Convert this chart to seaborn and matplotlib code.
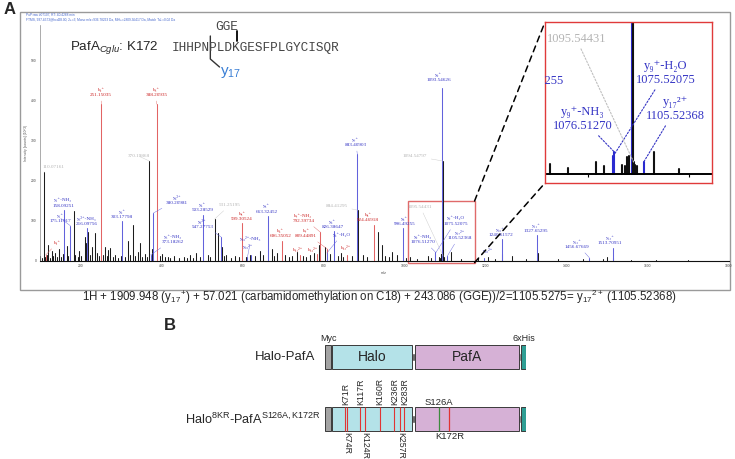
import matplotlib
matplotlib.use("Agg")
import matplotlib.pyplot as plt
from matplotlib.patches import Rectangle, ConnectionPatch
import numpy as np
import pandas as pd
import seaborn as sns

# ---------------- panel A: MS/MS spectrum (m/z, intensity x10^3) ----------------
other_mz = [101.07, 104.05, 110.07161, 112.08, 116.07, 120.08, 124.1, 129.10, 133.1, 136.08,
            141.1, 147.11, 152.1, 156.08, 166.06, 169.1, 183.11, 187.1, 193.1, 197.13,
            201.1, 211.14, 213.1, 218.15, 224.1, 229.12, 235.12, 240.1, 246.1, 256.1,
            260.15, 265.1, 268.16, 273.16, 280.1, 286.18, 292.1, 300.17, 310.1, 317.18,
            322.1, 330.19, 335.2, 341.2, 347.2, 352.1, 358.2, 364.2, 370.19868, 376.2,
            395.2, 401.22, 408.2, 415.2, 422.2, 430.2, 442.2, 455.2, 463.2, 470.25,
            478.2, 486.27, 495.2, 514.28, 520.3, 531.25195, 539.3, 548.3, 554.3, 560.3,
            571.3, 580.3, 590.3, 608.3, 618.3, 630.3, 643.3, 650.3, 672.3, 678.3,
            684.4, 705.4, 714.4, 722.4, 733.4, 748.4, 757.4, 766.4, 777.4, 789.4,
            804.4, 815.4, 835.4, 842.4, 848.4, 870.4, 884.41295, 896.4, 907.4, 935.48,
            943.5, 952.5, 960.5, 968.5, 980.5, 1004.5, 1012.5, 1030.5, 1058.5, 1066.5,
            1084.5, 1087.5, 1089.5, 1090.5, 1094.54797, 1095.54431, 1096.5, 1098.5, 1115.5, 1140.5,
            1180.5, 1206.6, 1222.6, 1241.6, 1264.6, 1300.6, 1328.65, 1380.0, 1440.7, 1490.7,
            1500.7, 1514.7, 1560.0, 1620.0, 1700.0]
other_int = [12, 8, 222, 10, 14, 40, 8, 25, 12, 20,
             10, 30, 9, 18, 38, 12, 125, 16, 10, 25,
             12, 60, 45, 72, 14, 35, 70, 20, 12, 16,
             35, 12, 28, 33, 10, 15, 8, 12, 10, 50,
             14, 90, 12, 22, 45, 10, 18, 10, 250, 30,
             12, 18, 10, 10, 8, 12, 8, 10, 8, 14,
             8, 20, 10, 15, 10, 105, 70, 35, 12, 14,
             8, 12, 10, 10, 15, 12, 25, 15, 30, 12,
             20, 14, 10, 12, 22, 12, 10, 15, 20, 40,
             35, 18, 12, 20, 10, 12, 127, 15, 10, 73,
             40, 12, 10, 22, 15, 8, 10, 6, 12, 8,
             9, 8, 17, 18, 250, 12, 9, 8, 22, 5,
             8, 10, 6, 18, 12, 5, 20, 4, 6, 5,
             10, 8, 3, 3, 3]

b_mz = [114.09134, 251.15035, 388.20935, 599.30524, 696.35052, 741.36, 784.88,
        792.39734, 809.44891, 858.41, 924.46918]
b_int = [15, 392, 392, 95, 50, 15, 18, 72, 30, 14, 90]
b_name = ["b₁⁺", "b₂⁺", "b₃⁺", "b₅⁺", "b₆⁺", "b₁₁²⁺", "b₁₂²⁺", "b₇⁺-NH₃", "b₇⁺", "b₁₃²⁺", "b₈⁺"]
b_show_mz = [False, True, True, True, True, False, False, True, True, False, True]

y_mz = [158.09251, 175.11917, 216.09756, 303.17798, 373.18262, 380.20981, 503.28529,
        547.27753, 612.30, 620.81, 663.32452, 808.36, 826.38647, 883.40903, 996.49255,
        1075.52075, 1076.51270, 1093.54626, 1105.52368, 1196.6, 1240.61572, 1327.65295,
        1456.67669, 1513.70951]
y_int = [128, 88, 82, 100, 15, 120, 115, 60, 10, 15, 112, 20, 75, 267, 82,
         18, 22, 432, 12, 8, 55, 65, 8, 33]
y_name = ["y₁⁺-NH₃", "y₁⁺", "y₃²⁺-NH₃", "y₂⁺", "y₃⁺-NH₃", "y₆²⁺", "y₄⁺", "y₉²⁺",
          "y₁₀²⁺-NH₃", "y₁₀²⁺", "y₅⁺", "y₆⁺-H₂O", "y₆⁺", "y₇⁺", "y₈⁺", "y₉⁺-H₂O",
          "y₉⁺-NH₃", "y₉⁺", "y₁₇²⁺", "y₂₀²⁺", "y₁₀⁺", "y₁₁⁺", "y₁₂⁺", "y₁₃⁺"]
y_show_mz = [True, True, True, True, True, True, True, True, False, False, True, False,
             True, True, True, True, True, True, True, False, True, True, True, True]

gray_mz = [110.07161, 370.19868, 531.25195, 884.41295, 1094.54797, 1095.54431]

x_ticks = [200, 400, 600, 800, 1000, 1200, 1400, 1600, 1800]
y_ticks = [0, 100, 200, 300, 400, 500]

peptide = "IHHPNPLDKGESFPLGYCISQR"
caption = (r"1H + 1909.948 (y$_{17}$$^{+}$) + 57.021 (carbamidomethylation on C18) + "
           r"243.086 (GGE))/2=1105.5275= y$_{17}$$^{2+}$ (1105.52368)")

# ---------------- panel B: constructs ----------------
dom_name = ["Myc", "Halo", "PafA", "6xHis"]
dom_start = [0.0, 3.5, 44.8, 97.5]
dom_end = [3.0, 43.3, 96.5, 100.0]
link_start = [3.0, 43.3, 96.5]
link_end = [3.5, 44.8, 97.5]
constructs = ["Halo-PafA",
              r"Halo$^{\mathregular{8KR}}$-PafA$^{\mathregular{S126A,K172R}}$"]
halo_mut = ["K71R", "K74R", "K117R", "K124R", "K160R", "K236R", "K257R", "K283R"]
halo_mut_pos = [10.1, 11.0, 17.6, 19.8, 27.4, 34.5, 37.5, 39.5]
halo_mut_above = [True, False, True, False, True, True, False, True]
pafa_mut = ["S126A", "K172R"]
pafa_mut_pos = [56.9, 61.9]

# ---------------- label layout (text anchor in data units) ----------------
y_lab_xy = [(158, 133), (150, 95), (216, 87), (303, 105), (428, 42), (438, 140), (501, 122),
            (501, 80), (621, 50), (613, 30), (660, 118), (845, 60), (823, 80), (880, 285),
            (1000, 87), (1127, 88), (1045, 42), (1085, 447), (1137, 52), (1206, 20),
            (1237, 60), (1325, 70), (1426, 30), (1508, 40)]
b_lab_xy = [(143, 40), (251, 410), (388, 410), (599, 100), (695, 57), (737, 22), (774, 22),
            (750, 95), (757, 57), (855, 27), (910, 97)]
gray_lab_xy = [(134, 236), (344, 262), (569, 140), (833, 138), (1026, 262), (1039, 135)]

C_BLUE_T, C_BLUE_L = "#3434c4", "#6262dc"
C_RED_T, C_RED_L = "#cc2424", "#e26464"
C_GRAY_T = "#b4b4b4"
C_DARK = "#1c1c1c"
SERIF = ["Liberation Serif", "DejaVu Serif"]

sns.set_style("white")
plt.rcParams["font.family"] = ["Liberation Sans", "DejaVu Sans"]
plt.rcParams["mathtext.fontset"] = "custom"
plt.rcParams["mathtext.rm"] = "Liberation Sans"
plt.rcParams["mathtext.it"] = "Liberation Sans:italic"
plt.rcParams["mathtext.bf"] = "Liberation Sans:bold"


def stems(mz, inten, kind, start):
    n = len(mz)
    return pd.DataFrame({
        "mz": np.repeat(mz, 2),
        "intensity": np.column_stack([np.zeros(n), inten]).ravel(),
        "ion": kind,
        "peak": np.repeat(np.arange(start, start + n), 2),
    })


peaks = pd.concat([stems(other_mz, other_int, "other", 0),
                   stems(b_mz, b_int, "b", 1000),
                   stems(y_mz, y_int, "y", 2000)], ignore_index=True)
pal = {"other": C_DARK, "b": C_RED_L, "y": C_BLUE_L}

fig = plt.figure(figsize=(7.35, 4.59), dpi=100)

# overlay in pixel units for decorations
ov = fig.add_axes([0, 0, 1, 1])
ov.set_xlim(0, 735)
ov.set_ylim(459, 0)
ov.axis("off")
ov.add_patch(Rectangle((20, 12), 710, 278, fill=False, ec="#9a9a9a", lw=1))
ov.text(4, 10, "A", fontsize=12, fontweight="bold", va="center")
ov.text(164, 326, "B", fontsize=12, fontweight="bold", va="center")
ov.text(26, 14.5, "PuP.raw #07107, RT: 40.4268 min", fontsize=2.3, color="#4466cc", va="center")
ov.text(26, 19.5, "FTMS, 937.4573@hcd28.00, 2+=3, Mono m/z=936.78263 Da, MH+=2809.36417 Da, "
        "Match Tol.=0.02 Da", fontsize=2.3, color="#4466cc", va="center")
ov.text(70, 48, r"PafA$_{\mathit{Cglu}}$: K172", fontsize=9.6, va="center")
ov.text(172, 48, peptide, family="Liberation Mono", fontsize=9.2, color="#444444", va="center")
cw = 9.2 * 0.6 * 100 / 72
ov.text(172 + 8.5 * cw + 1, 27, "GGE", family="Liberation Mono", fontsize=9.2,
        color="#444444", va="center", ha="right")
ov.plot([172 + 8.5 * cw] * 2, [31, 41], color="k", lw=1.3)
ov.plot([172 + 5 * cw, 172 + 5 * cw, 172 + 6.2 * cw], [36, 59, 67], color="#333333", lw=1)
ov.text(220, 73, r"y$_{17}$", fontsize=11, color="#3a7fd5", va="center")
ov.text(379, 297, caption, fontsize=8.3, ha="center", va="center")

# main spectrum
ax = fig.add_axes([40 / 735, 1 - 261 / 459, 688.5 / 735, 236 / 459])
ax.patch.set_alpha(0)
sns.lineplot(data=peaks, x="mz", y="intensity", hue="ion", hue_order=["other", "b", "y"],
             palette=pal, units="peak", estimator=None, sort=False, legend=False,
             lw=0.75, ax=ax)
ax.set_xlim(100, 1800)
ax.set_ylim(0, 590)
ax.set_xticks(x_ticks)
ax.set_yticks(y_ticks)
ax.tick_params(labelsize=2.4, length=1.5, width=0.4, pad=1, colors="#444444")
ax.set_xlabel("m/z", fontsize=2.6, labelpad=2, color="#444444")
ax.set_ylabel("Intensity [counts] (10^3)", fontsize=2.4, labelpad=2, color="#555555")
sns.despine(ax=ax)
ax.spines["left"].set_color("#8a8a8a")
ax.spines["left"].set_linewidth(0.5)
ax.spines["bottom"].set_color("#111111")
ax.spines["bottom"].set_linewidth(0.8)


def label_peaks(a, mz, inten, names, show, xy, tcol, lcol, fs, ls, lw, spacing,
                clip=False, xr=None, ymax=None):
    for m, i, n, s, (tx, ty) in zip(mz, inten, names, show, xy):
        if xr is not None and not (xr[0] <= tx <= xr[1]):
            continue
        if ymax is not None and ty > ymax:
            continue
        txt = (n + "\n" if n else "") + (f"{m:.5f}" if s else "")
        txt = txt.strip("\n")
        direct = abs(tx - m) < 15 and 0 <= ty - i < 16 and n
        arrow = None if direct else dict(arrowstyle="-", color=lcol, lw=lw, ls=ls,
                                         shrinkA=0.5, shrinkB=0)
        va = "bottom" if n else "center"
        kw = dict(clip_on=True) if clip else {}
        an = a.annotate(txt, xy=(m, i), xytext=(tx, ty), ha="center", va=va,
                        fontsize=fs, color=tcol, family=SERIF, linespacing=spacing,
                        annotation_clip=False, arrowprops=arrow, **kw)
        if clip and an.arrow_patch is not None:
            an.arrow_patch.set_clip_box(a.bbox)


gray_int = [other_int[other_mz.index(g)] for g in gray_mz]
gray_names = [""] * len(gray_mz)
gray_show = [True] * len(gray_mz)

label_peaks(ax, y_mz, y_int, y_name, y_show_mz, y_lab_xy, C_BLUE_T, C_BLUE_L, 3.7, "-", 0.3, 1.45)
label_peaks(ax, b_mz, b_int, b_name, b_show_mz, b_lab_xy, C_RED_T, C_RED_L, 3.7, "-", 0.3, 1.45)
label_peaks(ax, gray_mz, gray_int, gray_names, gray_show, gray_lab_xy, C_GRAY_T, "#c8c8c8",
            3.7, "-", 0.3, 1.45)

# zoom box on main spectrum
ax.add_patch(Rectangle((1008, -4), 165, 154, fill=False, ec="#e06a6a", lw=1, clip_on=False))

# inset
axi = fig.add_axes([545 / 735, 1 - 183 / 459, 167 / 735, 161 / 459])
sns.lineplot(data=peaks[(peaks.mz > 1008) & (peaks.mz < 1173)], x="mz", y="intensity",
             hue="ion", hue_order=["b", "y", "other"],
             palette={"other": "#111111", "b": C_RED_L, "y": "#2a2ad0"},
             units="peak", estimator=None, sort=False, legend=False, lw=1.5, ax=axi)
axi.set_xlim(1008, 1173)
axi.set_ylim(-9, 152)
axi.axhline(0, color="k", lw=1.4)
axi.vlines([1050, 1150], -3, 0, color="k", lw=0.8)
axi.set_xticks([])
axi.set_yticks([])
axi.set_xlabel("")
axi.set_ylabel("")
for sp in axi.spines.values():
    sp.set_color("#e03a3a")
    sp.set_linewidth(1)
rng = (960, 1200)
label_peaks(axi, y_mz, y_int, y_name, y_show_mz, y_lab_xy, C_BLUE_T, C_BLUE_T, 9,
            (0, (1.5, 1.5)), 0.8, 1.2, clip=True, xr=rng, ymax=150)
label_peaks(axi, gray_mz, gray_int, gray_names, gray_show, gray_lab_xy, C_GRAY_T, "#c0c0c0",
            9, (0, (1.5, 1.5)), 0.8, 1.2, clip=True, xr=rng, ymax=150)

for xa, xb in [((1173, 150), (0, 1)), ((1173, -4), (0, 0))]:
    fig.add_artist(ConnectionPatch(xyA=xa, coordsA=ax.transData, xyB=xb, coordsB=axi.transAxes,
                                   color="k", lw=1.1, ls=(0, (4, 3))))

# ---------------- panel B ----------------
axb = fig.add_axes([325 / 735, 1 - 445 / 459, 201 / 735, 115 / 459])
axb.set_xlim(0, 100)
axb.set_ylim(1.42, -0.435)
axb.axis("off")
dom_color = ["#a3a3a3", "#b4e2e8", "#d6b1d6", "#2f9e94"]
for row in range(2):
    axb.barh([row] * 3, np.subtract(link_end, link_start), left=link_start, height=0.13,
             color="#4a4a4a")
    axb.barh([row] * 4, np.subtract(dom_end, dom_start), left=dom_start, height=0.39,
             color=dom_color, edgecolor="#3a3a3a", lw=0.7)
axb.text(23.4, 0, "Halo", fontsize=10, ha="center", va="center")
axb.text(70.6, 0, "PafA", fontsize=10, ha="center", va="center")
axb.text(-5, 0, constructs[0], fontsize=9.5, ha="right", va="center")
axb.text(-2, 1.01, constructs[1], fontsize=9.2, ha="right", va="center")
axb.text(1.5, -0.3, "Myc", fontsize=6.5, ha="center", va="center")
axb.text(99, -0.3, "6xHis", fontsize=6.5, ha="center", va="center")
axb.vlines(halo_mut_pos, 1 - 0.19, 1 + 0.19, color="#e03434", lw=0.8)
for name, pos, up in zip(halo_mut, halo_mut_pos, halo_mut_above):
    if up:
        axb.text(pos, 0.78, name, fontsize=6.3, rotation=90, ha="center", va="bottom")
    else:
        axb.text(pos, 1.21, name, fontsize=6.3, rotation=270, ha="center", va="top")
axb.vlines(pafa_mut_pos, 1 - 0.19, 1 + 0.19, color=["#3d8a3d", "#e03434"], lw=0.9)
axb.text(pafa_mut_pos[0], 0.73, pafa_mut[0], fontsize=6.8, ha="center", va="center")
axb.text(pafa_mut_pos[1], 1.29, pafa_mut[1], fontsize=6.8, ha="center", va="center")

fig.savefig("out.png", dpi=100)
